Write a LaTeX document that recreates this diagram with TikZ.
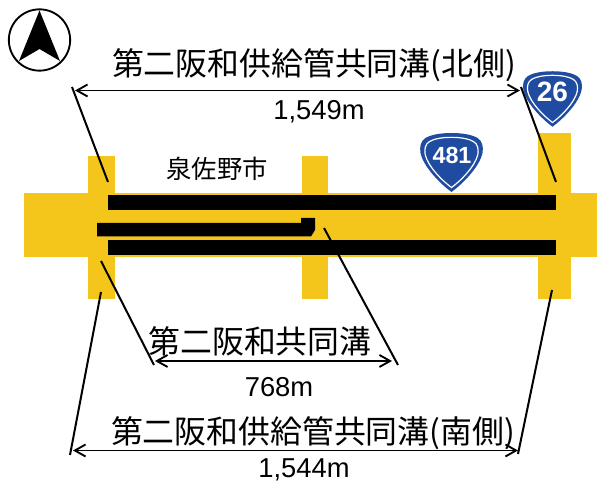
\documentclass[tikz,border=0pt]{standalone}
\usepackage{fontspec}
\setmainfont{Liberation Sans}
\newfontfamily\cjk{Noto Sans CJK JP}
\usetikzlibrary{arrows.meta}
\definecolor{roadyellow}{HTML}{F4C61C}
\definecolor{signblue}{HTML}{1F4BA0}
\tikzset{
  road/.style={fill=roadyellow,draw=none},
  trench/.style={fill=black,draw=none},
  leader/.style={draw=black,line width=1.5pt},
  dimline/.style={draw=black,line width=1.4pt,{Straight Barb[length=8pt,width=9pt]}-{Straight Barb[length=8pt,width=9pt]}},
  bigtitle/.style={inner sep=0pt,font=\cjk\fontsize{23.9}{26}\selectfont},
  lengthlabel/.style={inner sep=0pt,font=\fontsize{20.5}{24}\selectfont},
  citylabel/.style={inner sep=0pt,font=\cjk\fontsize{19}{22}\selectfont},
  signtext/.style={inner sep=0pt,text=white,font=\bfseries\fontsize{21}{24}\selectfont}
}
\newcommand{\signoutline}{(0,-29) .. controls (12,-29) and (21,-27) .. (26,-24)
      .. controls (31,-21) and (32,-15) .. (31,-9)
      .. controls (28,5) and (11,22) .. (0,30)
      .. controls (-11,22) and (-28,5) .. (-31,-9)
      .. controls (-32,-15) and (-31,-21) .. (-26,-24)
      .. controls (-21,-27) and (-12,-29) .. (0,-29) -- cycle}
\newcommand{\routesign}[3]{%
  \begin{scope}[shift={(#1,#2)},scale=#3]
    \fill[signblue] \signoutline;
    \draw[white,line width=0.9pt,scale=0.85] \signoutline;
  \end{scope}}
\begin{document}
\begin{tikzpicture}[x=0.75pt,y=-0.75pt]
\useasboundingbox (0,0) rectangle (597,484);
% roads
\path[road] (24,193) rectangle (597,257);
\path[road] (88,156) rectangle (115,299);
\path[road] (302,156) rectangle (328,299);
\path[road] (538,133) rectangle (571,299);
% trenches
\path[trench] (108,195) rectangle (556,210);
\path[trench] (108,240) rectangle (556,255);
\path[trench] (97,223) -- (301,223) -- (301,218) -- (315,218) -- (315,230) -- (311,236.500) -- (97,236.500) -- cycle;
% north arrow
\node[circle,draw=black,line width=1.4pt,minimum size=46pt,inner sep=0pt,fill=white] (compass) at (39.500,40) {};
\fill[black] (39.500,10.500) -- (60,61) -- (39.500,49) -- (19,61) -- cycle;
% signs
\routesign{552.500}{98.500}{0.94}
\routesign{451.500}{162}{1}
\node[signtext] (s26) at (552.500,92) {26};
\node[signtext,font=\bfseries\fontsize{17.5}{20}\selectfont] (s481) at (452,155) {481};
% labels
\node[citylabel] (city) at (217,169) {泉佐野市};
\node[bigtitle] (t1) at (314,65) {第二阪和供給管共同溝(北側)};
\node[lengthlabel] (l1) at (319,112) {1,549m};
\node[bigtitle] (t2) at (260,341) {第二阪和共同溝};
\node[lengthlabel] (l2) at (279,387) {768m};
\node[bigtitle] (t3) at (313,433) {第二阪和供給管共同溝(南側)};
\node[lengthlabel] (l3) at (304,470) {1,544m};
% leaders and dimensions
\coordinate (a1) at (72,87); \coordinate (a2) at (108,182);
\coordinate (b1) at (521,87); \coordinate (b2) at (556,182);
\coordinate (c1) at (154,365); \coordinate (c2) at (101,261);
\coordinate (d1) at (398,365); \coordinate (d2) at (324,228);
\coordinate (e1) at (70,455); \coordinate (e2) at (101,292);
\coordinate (f1) at (518,454); \coordinate (f2) at (552,290);
\draw[leader] (a1) -- (a2);
\draw[leader] (b1) -- (b2);
\draw[leader] (c1) -- (c2);
\draw[leader] (d1) -- (d2);
\draw[leader] (e1) -- (e2);
\draw[leader] (f1) -- (f2);
\draw[dimline] (75,90.500) -- (520,90.500);
\draw[dimline] (155,361) -- (392,361);
\draw[dimline] (73,450.500) -- (518,450.500);
\end{tikzpicture}
\end{document}
